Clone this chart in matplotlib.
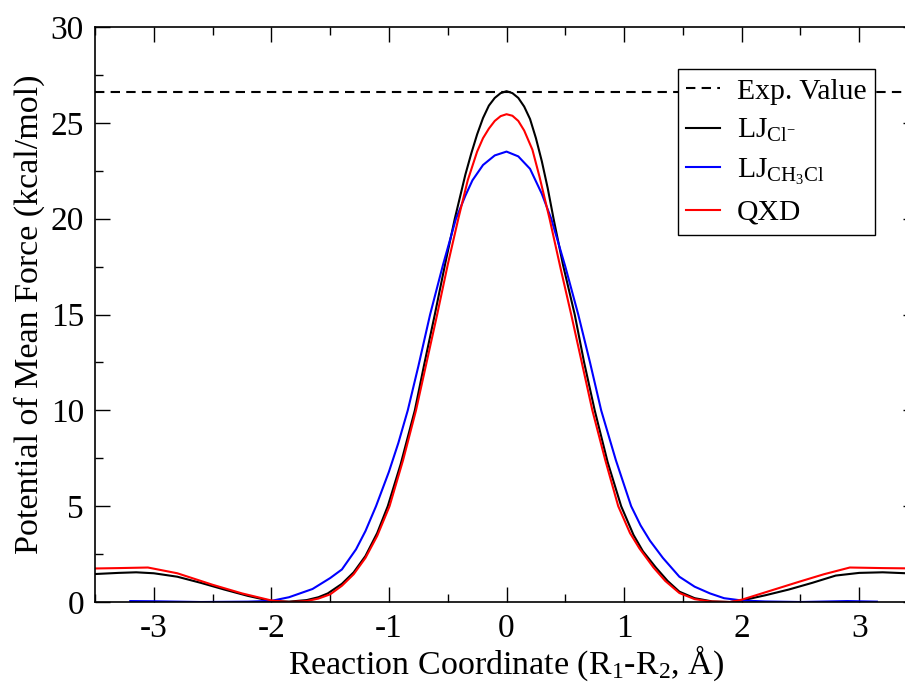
#!/usr/bin/env python3
"""PMF along the reaction coordinate for three models vs. experiment"""

import numpy as np
import matplotlib
matplotlib.use("Agg")
import matplotlib.pyplot as plt
from matplotlib.ticker import MultipleLocator

# experimental barrier (kcal/mol)
exp_value = 26.6

# LJ Cl- (black)
x_ljcl = [-3.5, -3.3, -3.15, -3.0, -2.8, -2.6, -2.4, -2.2, -2.0, -1.85,
          -1.7, -1.6, -1.52, -1.4, -1.3, -1.2, -1.1, -1.01, -0.9, -0.78,
          -0.7, -0.61, -0.52, -0.44, -0.35, -0.3, -0.25, -0.2, -0.15, -0.1,
          -0.05, 0.0, 0.05, 0.1, 0.15, 0.2, 0.25, 0.3, 0.35, 0.4,
          0.48, 0.58, 0.66, 0.75, 0.86, 0.975, 1.08, 1.16, 1.27, 1.37,
          1.47, 1.6, 1.75, 1.9, 2.0, 2.2, 2.4, 2.6, 2.8, 3.0,
          3.2, 3.4, 3.5]
y_ljcl = [1.46, 1.52, 1.55, 1.5, 1.32, 1.0, 0.65, 0.32, 0.05, 0.02,
          0.1, 0.25, 0.45, 0.95, 1.55, 2.4, 3.6, 5.0, 7.2, 10.0,
          12.4, 15.0, 17.7, 20.0, 22.3, 23.4, 24.4, 25.25, 25.9, 26.3,
          26.55, 26.65, 26.55, 26.3, 25.85, 25.2, 24.2, 23.0, 21.6, 20.0,
          17.6, 15.0, 12.5, 10.0, 7.3, 5.0, 3.5, 2.65, 1.8, 1.1,
          0.54, 0.2, 0.03, 0.0, 0.08, 0.35, 0.65, 1.0, 1.38, 1.52,
          1.55, 1.5, 1.48]

# LJ CH3Cl (blue)
x_ljch3cl = [-3.2, -3.0, -2.6, -2.2, -2.0, -1.85, -1.65, -1.5, -1.4, -1.28,
             -1.2, -1.11, -1.0, -0.92, -0.84, -0.75, -0.65, -0.54, -0.43, -0.35,
             -0.29, -0.2, -0.1, 0.0, 0.1, 0.2, 0.3, 0.38, 0.5,
             0.61, 0.71, 0.805, 0.93, 1.06, 1.14, 1.22, 1.33, 1.47, 1.6,
             1.73, 1.85, 2.0, 2.2, 2.5, 2.9, 3.15]
y_ljch3cl = [0.05, 0.04, 0.0, 0.02, 0.06, 0.25, 0.68, 1.25, 1.7, 2.75,
             3.7, 5.0, 6.8, 8.3, 10.0, 12.3, 15.0, 17.6, 20.0, 21.2,
             22.0, 22.8, 23.3, 23.5, 23.25, 22.6, 21.3, 20.0, 17.5,
             15.0, 12.5, 10.0, 7.4, 5.0, 4.0, 3.2, 2.3, 1.32, 0.8,
             0.45, 0.2, 0.08, 0.03, 0.0, 0.05, 0.02]

# QXD (red)
x_qxd = [-3.5, -3.3, -3.05, -2.8, -2.5, -2.25, -2.0, -1.85, -1.7, -1.6,
         -1.5, -1.4, -1.3, -1.2, -1.1, -0.995, -0.88, -0.77, -0.68, -0.59,
         -0.5, -0.41, -0.33, -0.25, -0.2, -0.15, -0.1, -0.05, 0.0, 0.05,
         0.1, 0.15, 0.22, 0.28, 0.366, 0.46, 0.55, 0.64, 0.73, 0.84,
         0.95, 1.05, 1.13, 1.25, 1.35, 1.47, 1.6, 1.73, 1.9, 2.0,
         2.25, 2.49, 2.7, 2.92, 3.2, 3.5]
y_qxd = [1.75, 1.77, 1.8, 1.5, 0.9, 0.45, 0.08, 0.0, 0.05, 0.18,
         0.4, 0.85, 1.45, 2.3, 3.45, 5.0, 7.4, 10.0, 12.5, 15.0,
         17.6, 20.0, 22.0, 23.5, 24.2, 24.7, 25.1, 25.35, 25.45, 25.37,
         25.1, 24.6, 23.6, 22.2, 20.0, 17.4, 15.0, 12.5, 10.0, 7.4,
         5.0, 3.6, 2.8, 1.8, 1.1, 0.47, 0.15, 0.03, 0.0, 0.12,
         0.6, 1.06, 1.45, 1.8, 1.77, 1.75]


def main():
    plt.rcParams['font.family'] = ['Liberation Serif', 'DejaVu Serif']
    plt.rcParams['mathtext.fontset'] = 'custom'
    plt.rcParams['mathtext.rm'] = 'Liberation Serif'
    plt.rcParams['mathtext.it'] = 'Liberation Serif:italic'
    plt.rcParams['axes.unicode_minus'] = False

    fig = plt.figure(figsize=(9.05, 6.87), dpi=100)
    # right edge of the frame falls just outside the picture, as in the original
    ax = fig.add_axes([0.105, 0.1237, 0.9094, 0.837])

    lw = 1.5
    ax.axhline(exp_value, color='black', lw=lw, ls=(0, (4.5, 3)), label='Exp. Value')
    ax.plot(x_ljcl, y_ljcl, color='black', lw=lw, label=r'LJ$_{\mathrm{Cl}^{-}}$')
    ax.plot(x_ljch3cl, y_ljch3cl, color='blue', lw=lw, label=r'LJ$_{\mathrm{CH_3Cl}}$')
    ax.plot(x_qxd, y_qxd, color='red', lw=lw, label='QXD')

    ax.set_xlim(-3.5, 3.5)
    ax.set_ylim(0, 30)
    ax.xaxis.set_major_locator(MultipleLocator(1))
    ax.xaxis.set_minor_locator(MultipleLocator(0.5))
    ax.yaxis.set_major_locator(MultipleLocator(5))
    ax.yaxis.set_minor_locator(MultipleLocator(2.5))
    ax.tick_params(which='both', direction='in', top=True, right=True,
                   labelsize=24, width=1)
    ax.tick_params(which='major', length=11, pad=8)
    ax.tick_params(which='minor', length=5.5)
    for s in ax.spines.values():
        s.set_linewidth(1.2)

    ax.set_xlabel(r'Reaction Coordinate (R$_1$-R$_2$, Å)', fontsize=24.5, labelpad=0)
    ax.set_ylabel('Potential of Mean Force (kcal/mol)', fontsize=24.5, labelpad=4)

    leg = ax.legend(loc='upper right', bbox_to_anchor=(0.948, 0.927),
                    borderaxespad=0, fontsize=21.3, frameon=True, fancybox=False,
                    handlelength=1.15, handletextpad=0.55, labelspacing=0.42,
                    borderpad=0.3)
    leg.get_frame().set_edgecolor('black')
    leg.get_frame().set_linewidth(1.0)
    leg.get_frame().set_alpha(1)

    fig.savefig('out.png', dpi=100)


if __name__ == "__main__":
    main()
